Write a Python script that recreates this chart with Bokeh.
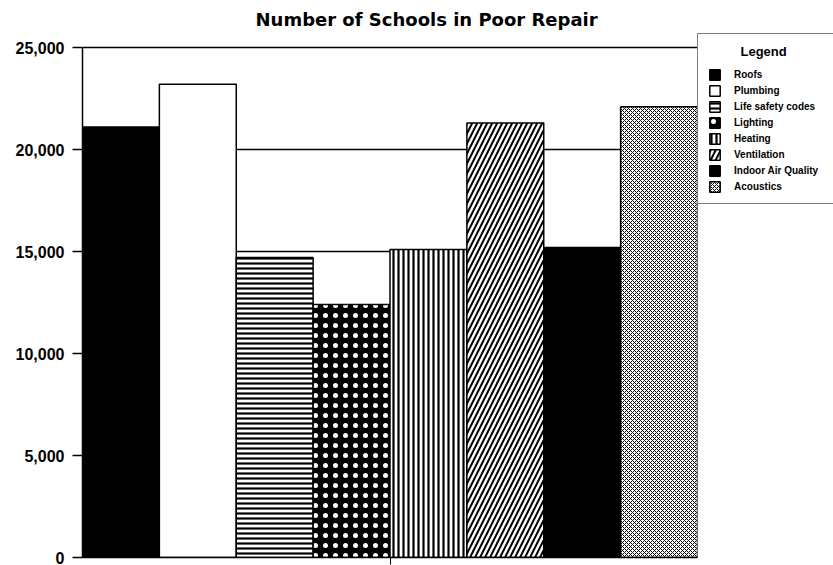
from bokeh.plotting import figure
from bokeh.models import (Range1d, FixedTicker, NumeralTickFormatter, Legend, LegendItem)
from bokeh.embed import file_html
from bokeh.resources import INLINE

# ---- data ----
categories = ["Roofs", "Plumbing", "Life safety codes", "Lighting", "Heating",
              "Ventilation", "Indoor Air Quality", "Acoustics"]
values = [21100, 23200, 14700, 12400, 15100, 21300, 15200, 22100]
y_ticks = [0, 5000, 10000, 15000, 20000, 25000]
y_max = 25000

# ---- styles (fill, hatch pattern, hatch colour, hatch scale, hatch weight) ----
styles = [
    ("black", None, "black", 6, 1),
    ("white", None, "black", 6, 1),
    ("white", "horizontal_line", "black", 5, 2.2),
    ("black", "dot", "white", 10, 1),
    ("white", "vertical_line", "black", 5, 2.2),
    ("white", "right_diagonal_line", "black", 10, 2),
    ("black", None, "black", 6, 1),
    ("white", "diagonal_cross", "black", 4, 1),
]

FONT = "Liberation Sans"
FRAME_H = 524          # frame reaches a little above the 25,000 line (legend top)
PLOT_H = 510           # pixels between 0 and 25,000

p = figure(frame_width=615, frame_height=FRAME_H, output_backend="svg",
           toolbar_location=None,
           x_range=Range1d(0, len(categories)),
           y_range=Range1d(0, y_max * FRAME_H / PLOT_H),
           min_border_left=82, min_border_right=136, min_border_top=33,
           min_border_bottom=8)

p.title.text = "Number of Schools in Poor Repair"
p.title.text_font = "DejaVu Sans"
p.title.text_font_size = "18px"
p.title.text_font_style = "bold"
p.title.text_color = "black"
p.title.align = "left"
p.title.offset = 173
p.title.standoff = 8
p.outline_line_color = None

# grid
p.xgrid.visible = False
p.ygrid.ticker = FixedTicker(ticks=y_ticks)
p.ygrid.grid_line_color = "black"
p.ygrid.grid_line_width = 1.5

# y axis
p.yaxis.ticker = FixedTicker(ticks=y_ticks)
p.yaxis.bounds = (0, y_max)
p.yaxis.formatter = NumeralTickFormatter(format="0,0")
p.yaxis.major_label_text_font = FONT
p.yaxis.major_label_text_font_style = "bold"
p.yaxis.major_label_text_font_size = "16px"
p.yaxis.major_label_text_color = "black"
p.yaxis.major_tick_out = 10
p.yaxis.major_tick_in = 0
p.yaxis.minor_tick_line_color = None
p.yaxis.axis_line_width = 1.5
p.yaxis.major_tick_line_width = 1.5
p.yaxis.major_label_standoff = 8

# x axis: a single tick at the centre, no labels
mid = len(categories) / 2
p.xaxis.ticker = FixedTicker(ticks=[mid])
p.xaxis.major_label_overrides = {mid: ""}
p.xaxis.major_label_text_font_size = "1px"
p.xaxis.major_label_standoff = 0
p.xaxis.major_tick_out = 7
p.xaxis.major_tick_in = 0
p.xaxis.minor_tick_line_color = None
p.xaxis.axis_line_width = 1.5

items = []
for i, (cat, val) in enumerate(zip(categories, values)):
    fill, hatch, hcol, hscale, hweight = styles[i]
    kw = {}
    if hatch:
        kw = dict(hatch_pattern=hatch, hatch_color=hcol, hatch_scale=hscale,
                  hatch_weight=hweight)
    r = p.vbar(x=[i + 0.5], top=[val], width=1, bottom=0, fill_color=fill,
               line_color="black", line_width=1.5, **kw)
    items.append(LegendItem(label=cat, renderers=[r]))

legend = Legend(items=items, location="top_left",
                title="\u00a0" * 9 + "Legend")
legend.title_text_font = FONT
legend.title_text_font_style = "bold"
legend.title_text_font_size = "13px"
legend.title_text_color = "black"
legend.title_standoff = 9
legend.label_text_font = FONT
legend.label_text_font_style = "bold"
legend.label_text_font_size = "10px"
legend.label_text_color = "black"
legend.glyph_width = 13
legend.glyph_height = 13
legend.label_height = 13
legend.spacing = 3
legend.label_standoff = 13
legend.label_width = 90
legend.padding = 10
legend.margin = 0
legend.border_line_color = "black"
legend.border_line_width = 1.5
p.add_layout(legend, "right")

open("out.html", "w").write(file_html(p, INLINE))
